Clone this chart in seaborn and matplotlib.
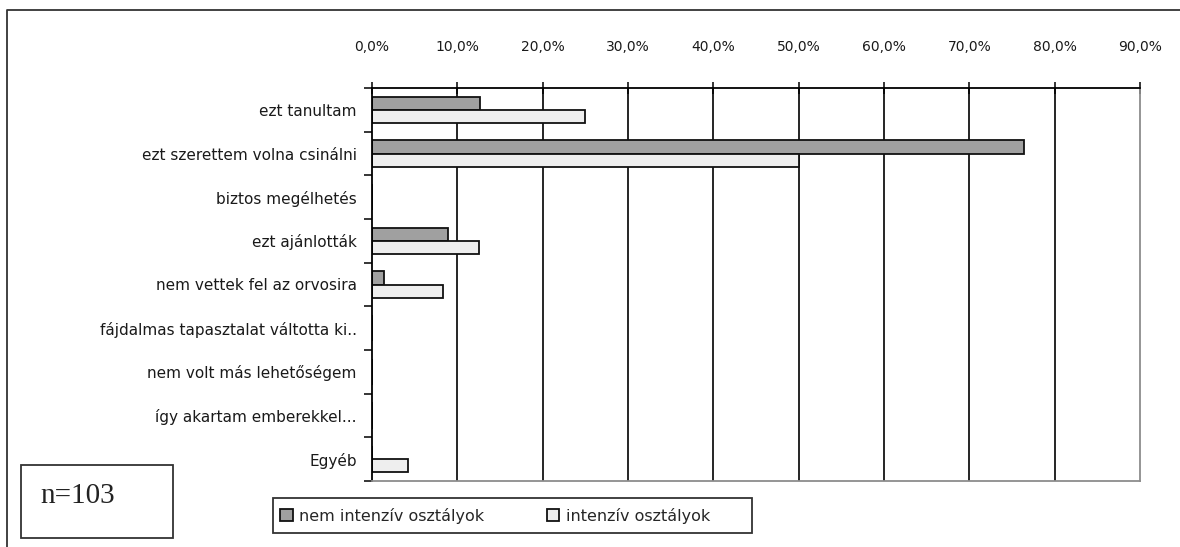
import pandas as pd
import numpy as np
import matplotlib
matplotlib.use('Agg')
import matplotlib.pyplot as plt
from matplotlib.ticker import FuncFormatter
from matplotlib.patches import Rectangle
from matplotlib.lines import Line2D
import seaborn as sns

# Data (percent)
categories = [
    'ezt tanultam',
    'ezt szerettem volna csinálni',
    'biztos megélhetés',
    'ezt ajánlották',
    'nem vettek fel az orvosira',
    'fájdalmas tapasztalat váltotta ki..',
    'nem volt más lehetőségem',
    'így akartam emberekkel...',
    'Egyéb',
]
groups = ['nem intenzív osztályok', 'intenzív osztályok']
nem_intenziv = [12.7, 76.4, 0.0, 8.9, 1.4, 0.0, 0.0, 0.0, 0.0]
intenziv = [25.0, 50.0, 0.0, 12.5, 8.3, 0.0, 0.0, 0.0, 4.2]
x_ticks = [0, 10, 20, 30, 40, 50, 60, 70, 80, 90]

colors = ['#a0a0a0', '#eeeeee']

df = pd.DataFrame({
    'kategoria': categories * 2,
    'ertek': nem_intenziv + intenziv,
    'csoport': [groups[0]] * len(categories) + [groups[1]] * len(categories),
})

sns.set_theme(style='white')
plt.rcParams['font.family'] = ['DejaVu Sans']

W, H = 1180, 547
fig = plt.figure(figsize=(W / 100, H / 100), dpi=100)
ax = fig.add_axes([372 / W, 1 - 481 / H, (1140 - 372) / W, (481 - 88) / H])

sns.barplot(data=df, y='kategoria', x='ertek', hue='csoport', orient='h',
            palette=colors, edgecolor='#111111', linewidth=1.3, width=0.6,
            ax=ax, errorbar=None)

handles, labels = ax.get_legend_handles_labels()
ax.get_legend().remove()

ax.set_xlim(0, 90)
ax.set_ylim(len(categories) - 0.5, -0.5)
ax.set_xticks(x_ticks)
ax.xaxis.set_major_formatter(FuncFormatter(lambda v, p: f"{v:.1f}%".replace('.', ',')))
ax.xaxis.tick_top()
ax.set_xlabel('')
ax.set_ylabel('')

# vertical gridlines
for t in x_ticks[1:-1]:
    ax.axvline(t, color='black', linewidth=1.2, zorder=0)

ax.tick_params(axis='x', top=True, bottom=False, direction='inout', length=9,
               width=1.1, color='black', pad=20, labelsize=10, labelcolor='#1a1a1a')
ax.set_yticks(np.arange(-0.5, len(categories) + 0.5, 1), minor=True)
ax.tick_params(axis='y', which='major', left=False, length=0, pad=11,
               labelsize=11, labelcolor='#1a1a1a')
ax.tick_params(axis='y', which='minor', left=True, direction='out', length=6,
               width=1.1, color='black')

for side in ['top', 'left']:
    ax.spines[side].set_color('black')
    ax.spines[side].set_linewidth(1.3)
for side in ['bottom', 'right']:
    ax.spines[side].set_color('#8c8c8c')
    ax.spines[side].set_linewidth(1.3)
    ax.spines[side].set_visible(True)

# outer chart frame (left and top edges)
fig.add_artist(Line2D([7 / W, 7 / W, 1.0], [0.0, 1 - 10 / H, 1 - 10 / H],
                      transform=fig.transFigure, color='#333333', linewidth=1.3))

# n=103 box
fig.add_artist(Rectangle((21 / W, 1 - 538 / H), (173 - 21) / W, (538 - 465) / H,
                         transform=fig.transFigure, fill=False,
                         edgecolor='#333333', linewidth=1.3))
fig.text(40 / W, 1 - 496 / H, 'n=103', family='Liberation Serif', fontsize=21,
         va='center', ha='left', color='#222222')

# legend box drawn separately so its width matches the reference
fig.add_artist(Rectangle((273 / W, 1 - 533 / H), (752 - 273) / W, (533 - 498) / H,
                         transform=fig.transFigure, fill=False,
                         edgecolor='#333333', linewidth=1.3))
fig.legend(handles, labels, loc='center left', ncol=2,
           bbox_to_anchor=(280 / W, 1 - 515.5 / H),
           frameon=False, fontsize=11.5,
           handlelength=0.8, handleheight=0.8, handletextpad=0.4,
           columnspacing=3.9, borderpad=0, borderaxespad=0)

fig.savefig('out.png', dpi=100)
